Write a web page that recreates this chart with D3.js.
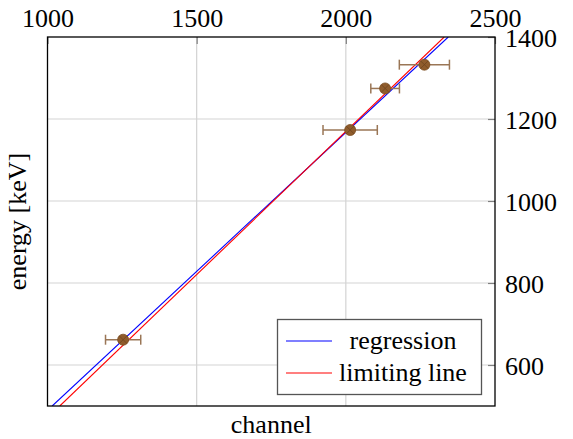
<!DOCTYPE html>
<html>
<head>
<meta charset="utf-8">
<script src="https://cdn.jsdelivr.net/npm/d3@7/dist/d3.min.js"></script>
<style>
  html, body { margin: 0; padding: 0; background: #fff; }
  svg { display: block; }
  text { font-family: "Liberation Serif", "DejaVu Serif", serif; fill: #000; }
</style>
</head>
<body>
<svg id="chart" width="573" height="439"></svg>
<script>
// Calibration points: measured channel vs. known gamma energy
const channels = [1253.5, 2014.5, 2131.7, 2263.3];
const energies = [661.7, 1173.2, 1274.5, 1332.5];
const channelErrors = [59, 91, 48, 84];

// Straight lines, each given by two (channel, energy) end points
const regressionLine = [[1015.7, 500], [2343.3, 1400]];
const limitingLine = [[1041.2, 500], [2329.7, 1400]];

// Axis ticks
const xTicks = [1000, 1500, 2000, 2500];
const yTicks = [600, 800, 1000, 1200, 1400];
const xDomain = [1000, 2500];
const yDomain = [500, 1400];

const seriesNames = ["regression", "limiting line"];
const seriesColors = ["#0000ff", "#ff0000"];

const svg = d3.select("#chart");
const plotL = 47.5, plotR = 495, plotT = 37, plotB = 406;

const x = d3.scaleLinear().domain(xDomain).range([plotL, plotR]);
const y = d3.scaleLinear().domain(yDomain).range([plotB, plotT]);

const fontSize = 26;

// clip region for the plot area
svg.append("defs").append("clipPath").attr("id", "plotclip")
  .append("rect").attr("x", plotL).attr("y", plotT)
  .attr("width", plotR - plotL).attr("height", plotB - plotT);

// grid lines
const grid = svg.append("g").attr("stroke", "#d3d3d3").attr("stroke-width", 1.2);
grid.selectAll("line.gx").data(xTicks.filter(t => t > xDomain[0] && t < xDomain[1]))
  .join("line").attr("class", "gx")
  .attr("x1", d => x(d)).attr("x2", d => x(d))
  .attr("y1", plotT).attr("y2", plotB);
grid.selectAll("line.gy").data(yTicks.filter(t => t > yDomain[0] && t < yDomain[1]))
  .join("line").attr("class", "gy")
  .attr("y1", d => y(d)).attr("y2", d => y(d))
  .attr("x1", plotL).attr("x2", plotR);

// axes: labels on the top and right, ticks pointing inwards
const xAxis = d3.axisTop(x).tickValues(xTicks).tickFormat(d3.format("d"))
  .tickSizeInner(-7).tickSizeOuter(0).tickPadding(10);
const yAxis = d3.axisRight(y).tickValues(yTicks).tickFormat(d3.format("d"))
  .tickSizeInner(-7).tickSizeOuter(0).tickPadding(10);

const gx = svg.append("g").attr("transform", `translate(0,${plotT})`).call(xAxis);
const gy = svg.append("g").attr("transform", `translate(${plotR},0)`).call(yAxis);
[gx, gy].forEach(g => {
  g.select(".domain").remove();
  g.selectAll(".tick line").attr("stroke", "#808080").attr("stroke-width", 1.2);
  g.selectAll(".tick text").style("font-family", '"Liberation Serif", serif')
    .style("font-size", fontSize + "px").attr("fill", "#000");
});
gy.selectAll(".tick text").attr("dy", "0.36em");

// lines
const lineGen = d3.line().x(d => x(d[0])).y(d => y(d[1]));
const lines = svg.append("g").attr("clip-path", "url(#plotclip)");
[regressionLine, limitingLine].forEach((pts, i) => {
  lines.append("path").attr("d", lineGen(pts))
    .attr("fill", "none").attr("stroke", seriesColors[i]).attr("stroke-width", 1.1);
});

// error bars
const pts = channels.map((c, i) => ({ c, e: energies[i], err: channelErrors[i] }));
const eb = svg.append("g").attr("stroke", "#9a7656").attr("stroke-width", 1.5);
pts.forEach(p => {
  const yy = y(p.e), x0 = x(p.c - p.err), x1 = x(p.c + p.err);
  eb.append("line").attr("x1", x0).attr("x2", x1).attr("y1", yy).attr("y2", yy);
  eb.append("line").attr("x1", x0).attr("x2", x0).attr("y1", yy - 5).attr("y2", yy + 5);
  eb.append("line").attr("x1", x1).attr("x2", x1).attr("y1", yy - 5).attr("y2", yy + 5);
});

// markers: filled circle with a cross
const mk = svg.append("g");
pts.forEach(p => {
  const cx = x(p.c), cy = y(p.e), r = 5.5, d = r * 0.7;
  mk.append("circle").attr("cx", cx).attr("cy", cy).attr("r", r)
    .attr("fill", "#8f5c2c").attr("stroke", "#7a4b20").attr("stroke-width", 0.8);
  mk.append("path")
    .attr("d", `M${cx - d},${cy - d}L${cx + d},${cy + d}M${cx - d},${cy + d}L${cx + d},${cy - d}`)
    .attr("stroke", "#6e4420").attr("stroke-width", 0.8);
});

// plot frame
svg.append("rect").attr("x", plotL).attr("y", plotT)
  .attr("width", plotR - plotL).attr("height", plotB - plotT)
  .attr("fill", "none").attr("stroke", "#000").attr("stroke-width", 1.3);

// legend
const lg = svg.append("g");
lg.append("rect").attr("x", 277.5).attr("y", 319.5).attr("width", 204).attr("height", 75)
  .attr("fill", "#fff").attr("stroke", "#555").attr("stroke-width", 1.3);
seriesNames.forEach((name, i) => {
  const ly = 341 + i * 32;
  lg.append("line").attr("x1", 286).attr("x2", 332).attr("y1", ly).attr("y2", ly)
    .attr("stroke", seriesColors[i]).attr("stroke-width", 1.1);
  lg.append("text").attr("x", 403).attr("y", ly + 8).attr("text-anchor", "middle")
    .style("font-size", fontSize + "px").text(name);
});

// axis titles
svg.append("text").attr("x", (plotL + plotR) / 2).attr("y", 433)
  .attr("text-anchor", "middle").style("font-size", fontSize + "px").text("channel");
svg.append("text")
  .attr("transform", `translate(26,${(plotT + plotB) / 2}) rotate(-90)`)
  .attr("text-anchor", "middle").style("font-size", fontSize + "px").text("energy [keV]");
</script>
</body>
</html>
